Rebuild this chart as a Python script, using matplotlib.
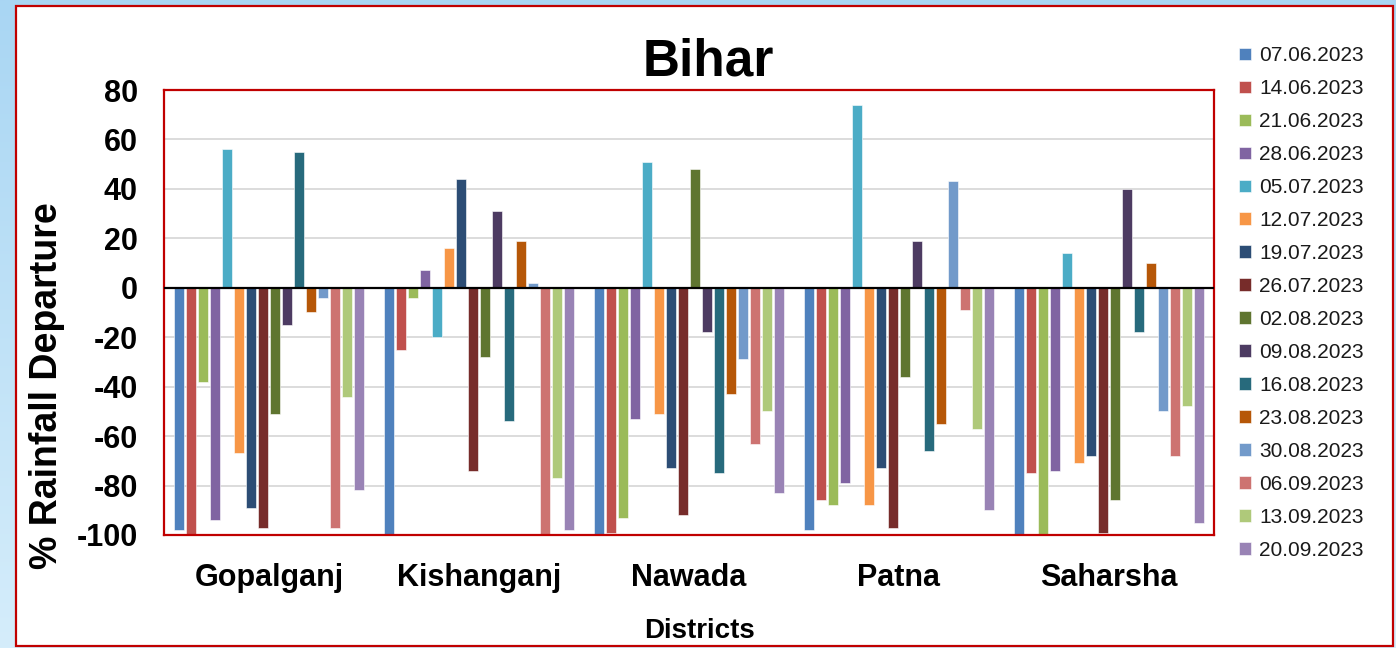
import matplotlib.pyplot as plt
import numpy as np
from matplotlib.patches import Rectangle

plt.rcParams['font.family'] = ['Liberation Sans', 'DejaVu Sans']
plt.rcParams['axes.unicode_minus'] = False

districts = ['Gopalganj', 'Kishanganj', 'Nawada', 'Patna', 'Saharsha']
dates = ['07.06.2023', '14.06.2023', '21.06.2023', '28.06.2023',
         '05.07.2023', '12.07.2023', '19.07.2023', '26.07.2023',
         '02.08.2023', '09.08.2023', '16.08.2023', '23.08.2023',
         '30.08.2023', '06.09.2023', '13.09.2023', '20.09.2023']
colors = ['#4F81BD', '#C0504D', '#9BBB59', '#8064A2',
          '#4BACC6', '#F79646', '#2C4D75', '#772C2A',
          '#5F7530', '#4D3B62', '#276A7C', '#B65708',
          '#729ACA', '#CD7371', '#AFC97A', '#9983B5']

# % departure per district, one value per week (same order as dates)
gopalganj = [-98, -100, -38, -94, 56, -67, -89, -97, -51, -15, 55, -10, -4, -97, -44, -82]
kishanganj = [-100, -25, -4, 7, -20, 16, 44, -74, -28, 31, -54, 19, 2, -100, -77, -98]
nawada = [-100, -99, -93, -53, 51, -51, -73, -92, 48, -18, -75, -43, -29, -63, -50, -83]
patna = [-98, -86, -88, -79, 74, -88, -73, -97, -36, 19, -66, -55, 43, -9, -57, -90]
saharsha = [-100, -75, -100, -74, 14, -71, -68, -99, -86, 40, -18, 10, -50, -68, -48, -95]

values = np.array([gopalganj, kishanganj, nawada, patna, saharsha])

fig = plt.figure(figsize=(13.96, 6.48), dpi=100)

# light blue backdrop with the white chart panel on top
bg = fig.add_axes([0, 0, 1, 1], zorder=0)
grad = np.linspace(0, 1, 256).reshape(-1, 1)
bg.imshow(grad, aspect='auto', extent=[0, 1, 0, 1], cmap=plt.matplotlib.colors.LinearSegmentedColormap.from_list('b', ['#A9D6F3', '#D5EDFB']))
bg.add_patch(Rectangle((16 / 1396, 2 / 648), (1393 - 16) / 1396, (642 - 2) / 648,
                       facecolor='white', edgecolor='#C00000', lw=1.6))
bg.set_xlim(0, 1)
bg.set_ylim(0, 1)
bg.axis('off')

ax = fig.add_axes([0.1175, 0.1744, 0.752, 0.6867], zorder=1)
x = np.arange(len(districts))
pitch = 12 / 210
for j, d in enumerate(dates):
    ax.bar(x + (j - 7.5) * pitch, values[:, j], width=pitch * 0.78,
           color=colors[j], edgecolor='white', linewidth=0.4, label=d, zorder=2)

ax.set_xlim(-0.5, 4.5)
ax.set_ylim(-100, 80)
ax.set_yticks(np.arange(-100, 81, 20))
ax.set_xticks(x)
ax.set_xticklabels(districts, fontsize=22, fontweight='bold')
for t in ax.get_yticklabels():
    t.set_fontsize(22)
    t.set_fontweight('bold')
ax.tick_params(axis='y', length=0, pad=19)
ax.tick_params(axis='x', length=0, pad=20)
ax.grid(axis='y', color='#D9D9D9', linewidth=1.3, zorder=0)
ax.set_axisbelow(True)
ax.axhline(0, color='black', linewidth=1.6, zorder=3)
for s in ax.spines.values():
    s.set_color('#C00000')
    s.set_linewidth(1.6)

fig.text(708 / 1396, 1 - 75 / 648, 'Bihar', ha='center', va='baseline',
         fontsize=37, fontweight='bold')
fig.text(47 / 1396, 1 - 386 / 648, '% Rainfall Departure', rotation=90,
         ha='center', va='center', fontsize=27, fontweight='bold')
fig.text(700 / 1396, 1 - 638 / 648, 'Districts', ha='center', va='baseline',
         fontsize=20, fontweight='bold')

ax.legend(loc='upper left', bbox_to_anchor=(1231 / 1396, 1 - 38 / 648),
          bbox_transform=fig.transFigure, frameon=False, fontsize=15,
          handlelength=0.55, handleheight=0.55, handletextpad=0.4,
          labelspacing=0.67, labelcolor='#1A1A1A', borderaxespad=0)

fig.savefig('out.png', dpi=100)
